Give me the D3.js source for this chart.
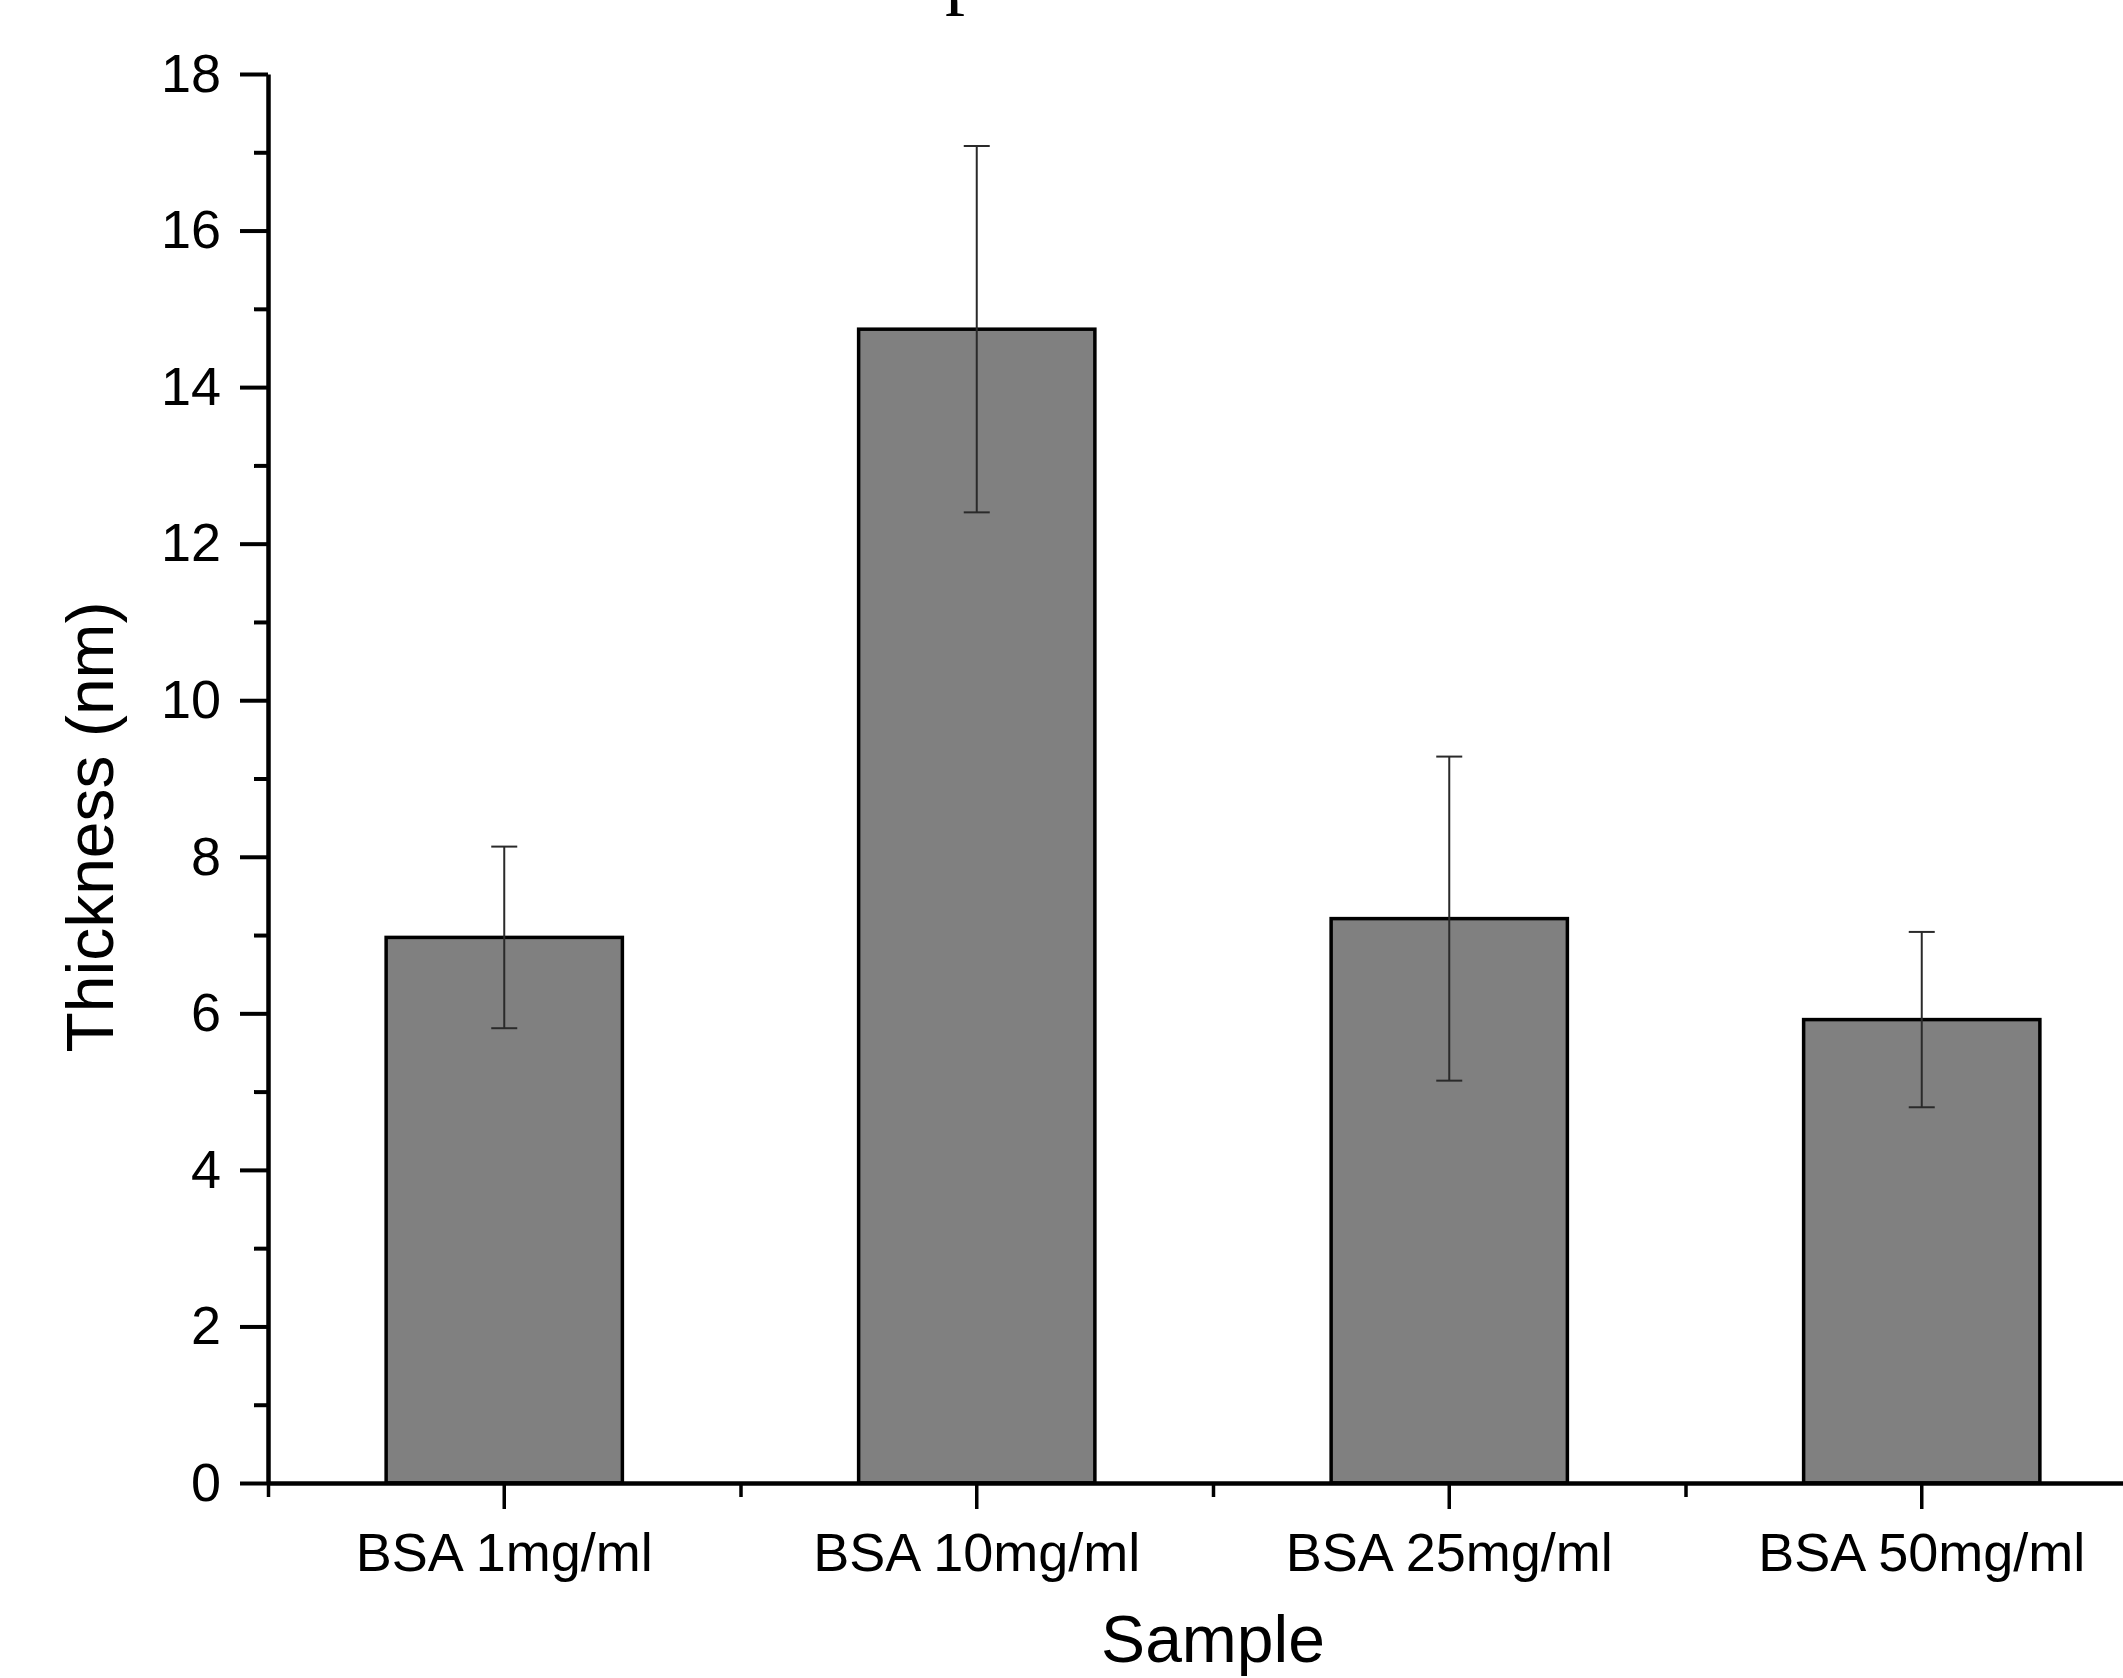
<!DOCTYPE html>
<html>
<head>
<meta charset="utf-8">
<script src="https://cdn.jsdelivr.net/npm/d3@7"></script>
<style>
  body { margin: 0; background: #fff; }
  svg { display: block; }
  .axis text { font-family: "Liberation Sans", Arial, sans-serif; font-size: 54px; fill: #000; }
  .title { font-family: "Liberation Sans", Arial, sans-serif; font-size: 66px; fill: #000; }
</style>
</head>
<body>
<svg id="plotSvg"></svg>
<script>
// chart data
const samples = ["BSA 1mg/ml", "BSA 10mg/ml", "BSA 25mg/ml", "BSA 50mg/ml"];
const thickness = [6.97, 14.74, 7.21, 5.92];
const thicknessErr = [1.16, 2.34, 2.07, 1.12];
const yTicks = [0, 2, 4, 6, 8, 10, 12, 14, 16, 18];
const yMinorTicks = [1, 3, 5, 7, 9, 11, 13, 15, 17];

const width = 2123, height = 1678;
const plot = { left: 268, top: 74, right: 2158, bottom: 1483 };

const svg = d3.select("#plotSvg")
    .attr("width", width)
    .attr("height", height);

svg.append("rect").attr("width", width).attr("height", height).attr("fill", "#fff");

const data = samples.map((s, i) => ({ name: s, value: thickness[i], err: thicknessErr[i] }));

const x = d3.scaleBand()
    .domain(samples)
    .range([plot.left, plot.right])
    .paddingInner(0.5)
    .paddingOuter(0.25);

// boundaries between categories (minor ticks on x)
const xEdge = d3.scaleLinear().domain([0, samples.length]).range([plot.left, plot.right]);

const y = d3.scaleLinear().domain([0, 18]).range([plot.bottom, plot.top]);

// bars
svg.selectAll(".bar")
    .data(data)
    .enter().append("rect")
    .attr("class", "bar")
    .attr("x", d => x(d.name))
    .attr("y", d => y(d.value))
    .attr("width", x.bandwidth())
    .attr("height", d => y(0) - y(d.value))
    .attr("fill", "#808080")
    .attr("stroke", "#000")
    .attr("stroke-width", 3.5);

// error bars
const errG = svg.selectAll(".err")
    .data(data)
    .enter().append("g")
    .attr("class", "err")
    .attr("stroke", "#2a2a2a")
    .attr("stroke-width", 2);

const cx = d => x(d.name) + x.bandwidth() / 2;
errG.append("line")
    .attr("x1", cx).attr("x2", cx)
    .attr("y1", d => y(d.value + d.err))
    .attr("y2", d => y(d.value - d.err));
errG.append("line")
    .attr("x1", d => cx(d) - 13).attr("x2", d => cx(d) + 13)
    .attr("y1", d => y(d.value + d.err))
    .attr("y2", d => y(d.value + d.err));
errG.append("line")
    .attr("x1", d => cx(d) - 13).attr("x2", d => cx(d) + 13)
    .attr("y1", d => y(d.value - d.err))
    .attr("y2", d => y(d.value - d.err));

// y axis: minor then major ticks
svg.append("g")
    .attr("class", "axis")
    .attr("transform", `translate(${plot.left},0)`)
    .call(d3.axisLeft(y).tickValues(yMinorTicks).tickSize(14).tickFormat(""))
    .call(g => g.select(".domain").remove())
    .call(g => g.selectAll("line").attr("stroke", "#000").attr("stroke-width", 4));

svg.append("g")
    .attr("class", "axis")
    .attr("transform", `translate(${plot.left},0)`)
    .call(d3.axisLeft(y).tickValues(yTicks).tickSize(28).tickSizeOuter(0).tickPadding(19).tickFormat(d3.format("d")))
    .call(g => g.select(".domain").attr("stroke", "#000").attr("stroke-width", 4.5))
    .call(g => g.selectAll("line").attr("stroke", "#000").attr("stroke-width", 4));

// x axis: minor ticks at category edges, major at centres
svg.append("g")
    .attr("class", "axis")
    .attr("transform", `translate(0,${plot.bottom})`)
    .call(d3.axisBottom(xEdge).tickValues(d3.range(samples.length + 1)).tickSize(14).tickFormat(""))
    .call(g => g.select(".domain").remove())
    .call(g => g.selectAll("line").attr("stroke", "#000").attr("stroke-width", 3.5));

svg.append("g")
    .attr("class", "axis")
    .attr("transform", `translate(0,${plot.bottom})`)
    .call(d3.axisBottom(x).tickSize(26).tickSizeOuter(0).tickPadding(24))
    .call(g => g.select(".domain").attr("stroke", "#000").attr("stroke-width", 4.5))
    .call(g => g.selectAll("line").attr("stroke", "#000").attr("stroke-width", 3.5));

// axis titles
svg.append("text")
    .attr("class", "title")
    .attr("transform", "translate(113,827) rotate(-90)")
    .attr("text-anchor", "middle")
    .text("Thickness (nm)");

svg.append("text")
    .attr("class", "title")
    .attr("x", (plot.left + plot.right) / 2)
    .attr("y", 1662)
    .attr("text-anchor", "middle")
    .text("Sample");

// chart title sits above the picture, only the descender of the "p" shows
svg.append("text")
    .attr("x", 945)
    .attr("y", -1)
    .attr("font-family", "Liberation Serif, Times New Roman, serif")
    .attr("font-size", 80)
    .attr("fill", "#000")
    .text("p");
</script>
</body>
</html>
